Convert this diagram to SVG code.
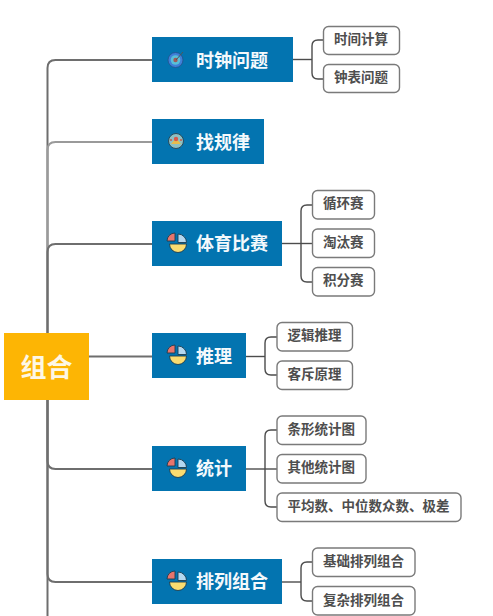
<svg xmlns="http://www.w3.org/2000/svg" width="493" height="616" viewBox="0 0 493 616">
<defs>
<style>
text{font-family:"Noto Sans CJK SC","Liberation Sans",sans-serif;font-weight:700}
.main rect{fill:#0374b0}
.main text{fill:#f4f9fc;font-size:18px;dominant-baseline:central}
.sub rect{fill:#fff;stroke:#7a7a7a;stroke-width:1.4}
.sub text{fill:#4e4e4e;font-size:13.500px;dominant-baseline:central}
.trunk{fill:none;stroke:#6e6e6e;stroke-width:2}
.light{stroke:#9a9a9a}
.branch{fill:none;stroke:#4c4c4c;stroke-width:1.4}
</style>
<g id="pie" stroke="#1d3d50" stroke-width=".9" stroke-linejoin="round">
<path d="M-2-2V-10A8 8 0 0 0-10-2Z" fill="#e8756c"/>
<path d="M1-9A8.500 8.500 0 0 1 9.500-.5H1Z" fill="#b4d8f0"/>
<path d="M-7.500 1H9.500A8.500 8.500 0 0 1-7.500 1Z" fill="#fadc70"/>
</g>
</defs>
<rect width="493" height="616" fill="#fff"/>
<g id="connectors">
<path class="trunk" d="M47.500 333V68Q47.500 60 55.500 60H152"/>
<path class="trunk light" d="M47.500 150Q47.500 142 55.500 142H152"/>
<path class="trunk light" d="M47.500 333V150"/>
<path class="trunk" d="M47.500 333V252Q47.500 244 55.500 244H152"/>
<path class="trunk" d="M89 356.500H152"/>
<path class="trunk" d="M47.500 400V461Q47.500 469 55.500 469H152"/>
<path class="trunk" d="M47.500 400V574Q47.500 582 55.500 582H152"/>
<path class="trunk" d="M47.500 400V616"/>
<path class="branch" d="M293 59.500H312"/>
<path class="branch" d="M323 40H318Q312 40 312 46V73Q312 79 318 79H323"/>
<path class="branch" d="M282 243.500H312.500"/>
<path class="branch" d="M312.500 205H307Q301 205 301 211V276Q301 282 307 282H312.500"/>
<path class="branch" d="M246 356.500H265"/>
<path class="branch" d="M277 337H271Q265 337 265 343V369Q265 375 271 375H277"/>
<path class="branch" d="M246 469H277"/>
<path class="branch" d="M277 430H271Q265 430 265 436V501Q265 507 271 507H277"/>
<path class="branch" d="M282 582H301"/>
<path class="branch" d="M312.500 562H307Q301 562 301 568V595Q301 601 307 601H312.500"/>
</g>
<g id="root"><rect x="4" y="333" width="85" height="67" fill="#fdb504"/><text x="46.500" y="365" font-size="26" fill="#fdf7e6" text-anchor="middle" dominant-baseline="central">组合</text></g>
<g id="n1" class="main"><rect x="152" y="37" width="141" height="45"/>
<circle cx="175.500" cy="60" r="7.500" fill="#3f80d8" stroke="#24508a" stroke-width=".8"/><circle cx="175.500" cy="60" r="4.800" fill="#58c0d8"/><circle cx="175.500" cy="60" r="2.200" fill="#a05a5a"/><path d="M176 60L183 52" stroke="#555" stroke-width="1"/>
<text x="196" y="58.500">时钟问题</text></g>
<g id="n2" class="main"><rect x="152" y="119" width="112" height="45"/>
<circle cx="176" cy="141" r="7.500" fill="#8cc0c4" stroke="#2a4a5a" stroke-width="1"/><path d="M171 144L176 138L181 144Z" fill="#e8bc4c"/><circle cx="176" cy="139" r="2.200" fill="#d8584a"/><path d="M170 140H172M180 140H182" stroke="#c8584a" stroke-width="1.500"/>
<text x="196" y="140.500">找规律</text></g>
<g id="n3" class="main"><rect x="152" y="221" width="130" height="45"/><use href="#pie" x="177" y="243"/><text x="196" y="242">体育比赛</text></g>
<g id="n4" class="main"><rect x="152" y="333" width="94" height="45"/><use href="#pie" x="177" y="355"/><text x="196" y="354.500">推理</text></g>
<g id="n5" class="main"><rect x="152" y="446" width="94" height="45"/><use href="#pie" x="177" y="468"/><text x="196" y="467">统计</text></g>
<g id="n6" class="main"><rect x="152" y="559" width="130" height="45"/><use href="#pie" x="177" y="581"/><text x="196" y="580">排列组合</text></g>
<g id="s1" class="sub"><rect x="323.500" y="26.500" width="76" height="28" rx="5"/><text x="334" y="37.500">时间计算</text></g>
<g id="s2" class="sub"><rect x="323.500" y="64.500" width="76" height="28" rx="5"/><text x="334" y="76">钟表问题</text></g>
<g id="s3" class="sub"><rect x="312.500" y="190.500" width="62" height="28.500" rx="5"/><text x="323" y="202">循环赛</text></g>
<g id="s4" class="sub"><rect x="312.500" y="229" width="62" height="28.500" rx="5"/><text x="323" y="241">淘汰赛</text></g>
<g id="s5" class="sub"><rect x="312.500" y="267.500" width="62" height="28.500" rx="5"/><text x="323" y="279">积分赛</text></g>
<g id="s6" class="sub"><rect x="277" y="322.500" width="75.500" height="28.500" rx="5"/><text x="287.500" y="334">逻辑推理</text></g>
<g id="s7" class="sub"><rect x="277" y="361" width="75.500" height="28.500" rx="5"/><text x="287.500" y="373">客斥原理</text></g>
<g id="s8" class="sub"><rect x="277" y="416" width="89" height="28.500" rx="5"/><text x="287.500" y="427.500">条形统计图</text></g>
<g id="s9" class="sub"><rect x="277" y="454.500" width="89" height="28.500" rx="5"/><text x="287.500" y="466">其他统计图</text></g>
<g id="s10" class="sub"><rect x="277" y="493" width="184" height="28.500" rx="5"/><text x="287.500" y="504.500">平均数、中位数众数、极差</text></g>
<g id="s11" class="sub"><rect x="312.500" y="548" width="102.500" height="28.500" rx="5"/><text x="323" y="560">基础排列组合</text></g>
<g id="s12" class="sub"><rect x="312.500" y="586.500" width="102.500" height="28.500" rx="5"/><text x="323" y="598.500">复杂排列组合</text></g>
</svg>
